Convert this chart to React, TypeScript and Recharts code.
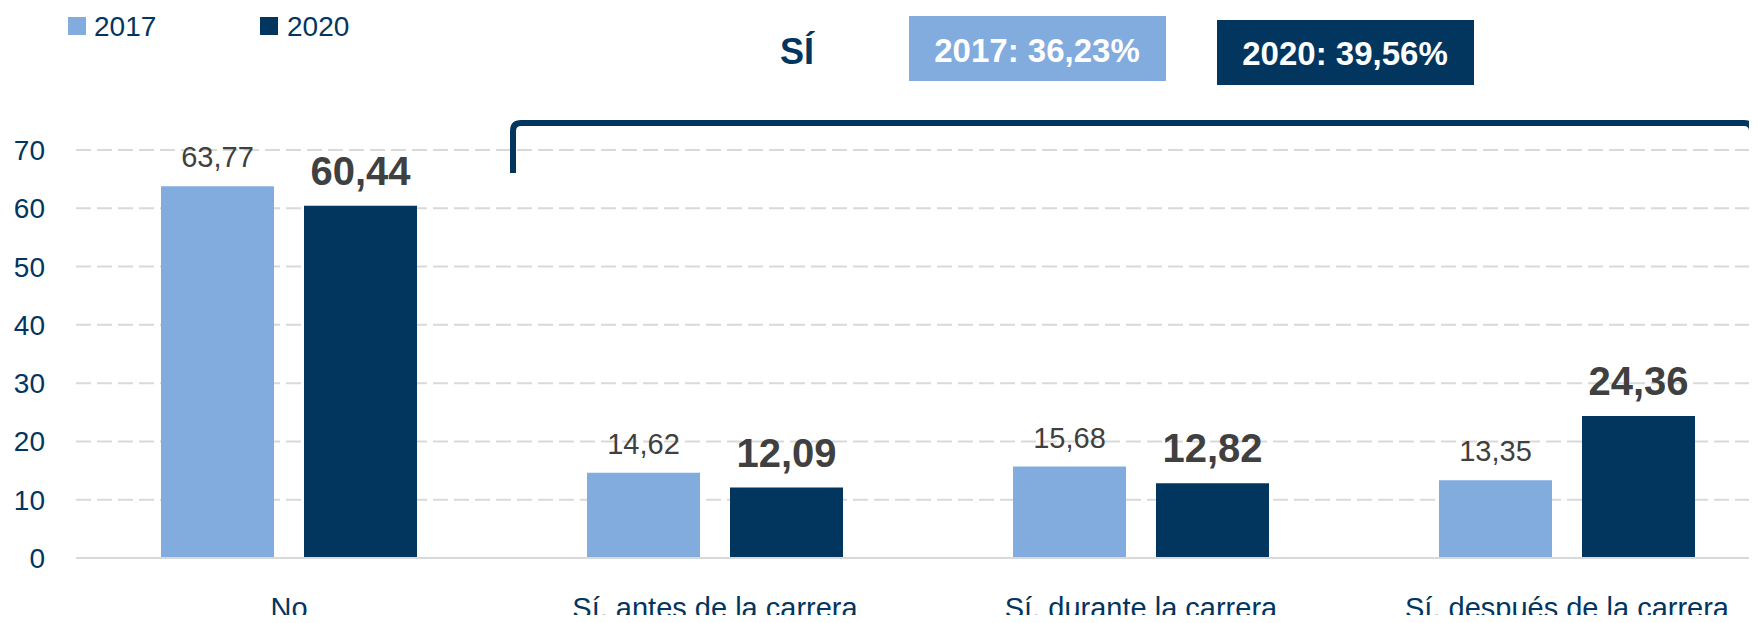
import { BarChart, Bar, XAxis, YAxis, CartesianGrid, LabelList } from "recharts";

const categories = ["No", "Sí, antes de la carrera", "Sí, durante la carrera", "Sí, después de la carrera"];
const values2017 = [63.77, 14.62, 15.68, 13.35];
const values2020 = [60.44, 12.09, 12.82, 24.36];
const seriesNames = ["2017", "2020"];
const siTotals = [36.23, 39.56];
const yTicks = [0, 10, 20, 30, 40, 50, 60, 70];

const LIGHT = "#82ABDE";
const DARK = "#02365F";
const FONT = "'Liberation Sans', Arial, sans-serif";

const data = categories.map((name, i) => ({
  name,
  v2017: values2017[i],
  v2020: values2020[i],
}));

function formatComma(value: unknown): string {
  const n = typeof value === "number" ? value : Number(value);
  return n.toFixed(2).replace(".", ",");
}

function Annotations() {
  const colors = [LIGHT, DARK];
  return (
    <svg
      width={1757}
      height={623}
      style={{ position: "absolute", left: 0, top: 0, pointerEvents: "none" }}
      fontFamily={FONT}
    >
      {/* legend */}
      {seriesNames.map((s, i) => (
        <g key={s}>
          <rect x={68 + i * 192} y={17} width={18} height={18} fill={colors[i]} />
          <text x={94 + i * 193} y={36} fontSize={28} fill={DARK}>
            {s}
          </text>
        </g>
      ))}

      {/* "Sí" summary */}
      <text x={797} y={64} fontSize={36} fontWeight="bold" fill={DARK} textAnchor="middle">
        SÍ
      </text>
      <rect x={909} y={16} width={257} height={65} fill={LIGHT} />
      <text x={1037} y={62} fontSize={33} fontWeight="bold" fill="#fff" textAnchor="middle">
        {`${seriesNames[0]}: ${formatComma(siTotals[0])}%`}
      </text>
      <rect x={1217} y={20} width={257} height={65} fill={DARK} />
      <text x={1345} y={65} fontSize={33} fontWeight="bold" fill="#fff" textAnchor="middle">
        {`${seriesNames[1]}: ${formatComma(siTotals[1])}%`}
      </text>

      {/* bracket over the "Sí" groups */}
      <path
        d="M513,173 L513,131 Q513,123 521,123 L1744,123 Q1752,123 1752,131 L1752,172"
        stroke={DARK}
        strokeWidth={6}
        fill="none"
      />
    </svg>
  );
}

export default function App() {
  return (
    <div
      style={{
        position: "relative",
        width: 1757,
        height: 623,
        margin: -8,
        overflow: "hidden",
        background: "#fff",
        fontFamily: FONT,
      }}
    >
      <BarChart
        width={1780}
        height={623}
        data={data}
        margin={{ top: 150, right: 0, bottom: 0, left: 0 }}
        barSize={113}
        barGap={30}
      >
        <CartesianGrid vertical={false} stroke="#D9D9D9" strokeWidth={2} strokeDasharray="15 6" />
        <XAxis
          dataKey="name"
          height={65}
          tickLine={false}
          axisLine={{ stroke: "#D9D9D9", strokeWidth: 2 }}
          tickMargin={33}
          tick={{ fontSize: 29, fill: DARK, fontFamily: FONT }}
          interval={0}
        />
        <YAxis
          width={76}
          domain={[0, 70]}
          ticks={yTicks}
          tickLine={false}
          axisLine={false}
          tickMargin={25}
          tick={{ fontSize: 28, fill: DARK, fontFamily: FONT }}
        />
        <Bar dataKey="v2017" name={seriesNames[0]} fill={LIGHT} isAnimationActive={false}>
          <LabelList
            dataKey="v2017"
            position="top"
            offset={19}
            formatter={formatComma}
            style={{ fontSize: 29, fill: "#404040", fontFamily: FONT }}
          />
        </Bar>
        <Bar dataKey="v2020" name={seriesNames[1]} fill={DARK} isAnimationActive={false}>
          <LabelList
            dataKey="v2020"
            position="top"
            offset={21}
            formatter={formatComma}
            style={{ fontSize: 40, fontWeight: "bold", fill: "#404040", fontFamily: FONT }}
          />
        </Bar>
      </BarChart>
      <Annotations />
    </div>
  );
}
